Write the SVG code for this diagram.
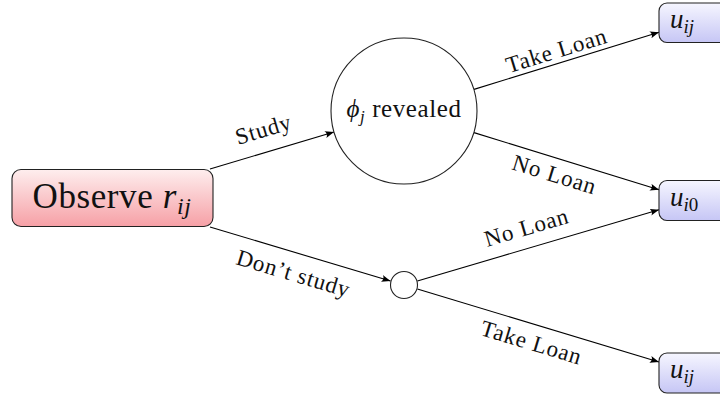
<svg xmlns="http://www.w3.org/2000/svg" width="720" height="396" viewBox="0 0 720 396">
<defs>
<linearGradient id="red" x1="0" y1="0" x2="0" y2="1">
<stop offset="0" stop-color="#feeeee"/>
<stop offset="1" stop-color="#f6a0a6"/>
</linearGradient>
<linearGradient id="blue" x1="0" y1="0" x2="0" y2="1">
<stop offset="0" stop-color="#f6f6ff"/>
<stop offset="1" stop-color="#c6c6f5"/>
</linearGradient>
<marker id="arr" markerUnits="userSpaceOnUse" markerWidth="10" markerHeight="8" refX="9" refY="3.5" orient="auto">
<path d="M0,0 Q3,3.5 0,7 L9,3.5 Z" fill="#000"/>
</marker>
</defs>
<style>
text{font-family:"Liberation Serif","DejaVu Serif",serif;fill:#111}
.lbl{font-size:23px;letter-spacing:0.8px}
.it{font-style:italic}
.edge{stroke:#000;stroke-width:1.1;fill:none;marker-end:url(#arr)}
.node{stroke:#222;stroke-width:1.1}
</style>
<g id="connectors">
<line class="edge" x1="210" y1="169" x2="334" y2="132"/>
<line class="edge" x1="210" y1="227" x2="390.5" y2="281"/>
<line class="edge" x1="474" y1="89.4" x2="659" y2="32.2"/>
<line class="edge" x1="474" y1="132.6" x2="659" y2="189.8"/>
<line class="edge" x1="417.4" y1="281" x2="659" y2="209.7"/>
<line class="edge" x1="417.4" y1="289" x2="659" y2="362"/>
<text class="lbl" text-anchor="middle" x="264" y="137" transform="rotate(-16.6 264 131)">Study</text>
<text class="lbl" text-anchor="middle" x="293" y="281" transform="rotate(16.6 293 275)">Don’t study</text>
<text class="lbl" text-anchor="middle" x="557" y="58" transform="rotate(-17.2 557 52)">Take Loan</text>
<text class="lbl" text-anchor="middle" x="554" y="182" transform="rotate(17.2 554 176)">No Loan</text>
<text class="lbl" text-anchor="middle" x="527" y="235" transform="rotate(-16.4 527 229)">No Loan</text>
<text class="lbl" text-anchor="middle" x="531" y="350" transform="rotate(16.8 531 344)">Take Loan</text>
</g>
<g id="observe">
<rect class="node" x="12" y="169.5" width="201" height="57" rx="9" fill="url(#red)"/>
<text x="112" y="208" text-anchor="middle" font-size="35" letter-spacing="0.6">Observe <tspan class="it">r</tspan><tspan class="it" font-size="24" dy="6">ij</tspan></text>
</g>
<g id="revealed">
<circle class="node" cx="404" cy="111" r="73" fill="#fff"/>
<text x="404" y="117" text-anchor="middle" font-size="25" letter-spacing="0.6"><tspan class="it">ϕ</tspan><tspan class="it" font-size="17" dy="5">j</tspan><tspan dy="-5"> revealed</tspan></text>
</g>
<g id="chance">
<circle class="node" cx="404" cy="285" r="13.5" fill="#fff"/>
</g>
<g id="u_top">
<rect class="node" x="659" y="3" width="80" height="39.5" rx="8" fill="url(#blue)"/>
<text x="670" y="28" font-size="27"><tspan class="it">u</tspan><tspan class="it" font-size="19" dy="5">ij</tspan></text>
</g>
<g id="u_mid">
<rect class="node" x="659" y="180.5" width="80" height="40" rx="8" fill="url(#blue)"/>
<text x="670" y="206" font-size="27"><tspan class="it">u</tspan><tspan class="it" font-size="19" dy="5">i</tspan><tspan font-size="19">0</tspan></text>
</g>
<g id="u_bot">
<rect class="node" x="659" y="353" width="80" height="40" rx="8" fill="url(#blue)"/>
<text x="670" y="378" font-size="27"><tspan class="it">u</tspan><tspan class="it" font-size="19" dy="5">ij</tspan></text>
</g>
</svg>
